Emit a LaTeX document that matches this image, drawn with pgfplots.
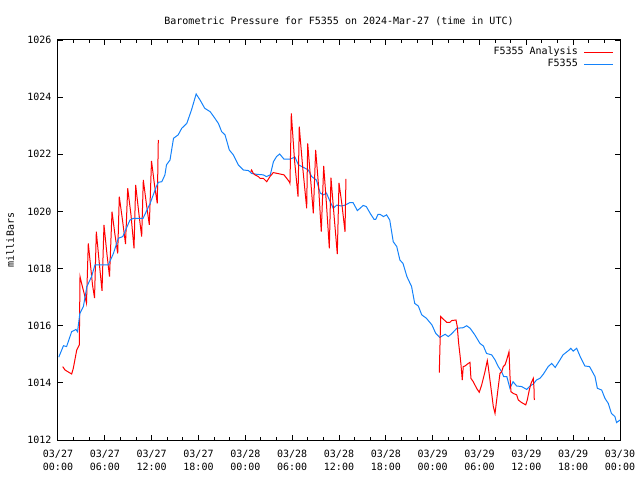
\documentclass[border=0pt]{standalone}
\usepackage{fontspec}
\setmainfont{DejaVu Sans Mono}
\usepackage{pgfplots}
\pgfplotsset{compat=1.18}
\definecolor{gred}{RGB}{255,0,0}
\definecolor{gblue}{RGB}{20,130,250}
\begin{document}
\begin{tikzpicture}
\useasboundingbox (0,0) rectangle (640pt,480pt);
\begin{axis}[
  at={(58pt,40pt)}, anchor=south west,
  scale only axis, width=562pt, height=400pt,
  xmin=0, xmax=72, ymin=1012, ymax=1026,
  xtick={0,6,...,72},
  xticklabels={{03/27\\00:00},{03/27\\06:00},{03/27\\12:00},{03/27\\18:00},{03/28\\00:00},{03/28\\06:00},{03/28\\12:00},{03/28\\18:00},{03/29\\00:00},{03/29\\06:00},{03/29\\12:00},{03/29\\18:00},{03/30\\00:00}},
  minor x tick num=2,
  ytick={1012,1014,...,1026},
  /pgf/number format/assume math mode=true,
  /pgf/number format/1000 sep={},
  yticklabel style={xshift=-3pt},
  xticklabel style={align=center, yshift=-6.5pt, font=\fontsize{10}{13}\selectfont},
  major tick length=5pt, minor tick length=3pt,
  axis line style={line width=1pt},
  every tick/.style={black, line width=1pt},
  title={Barometric Pressure for F5355 on 2024-Mar-27 (time in UTC)},
  title style={at={(0.5,1)}, anchor=base, yshift=9pt, inner sep=0pt},
  ylabel={milliBars},
  ylabel style={at={(axis description cs:0,0.5)}, anchor=center, yshift=48pt},
  legend plot pos=right,
  legend cell align=right,
  legend image code/.code={\draw[#1] (0pt,0pt) -- (29pt,0pt);},
  legend style={draw=none, fill=none, at={(1,1)}, anchor=north east, xshift=-6pt, yshift=-6pt, inner sep=0pt, row sep=0pt, column sep=5pt, nodes={inner sep=1pt, text height=7.5pt, text depth=2.5pt}},
]
\addplot[gred, line width=1pt] coordinates {
(0.6,1014.57) (0.9,1014.45) (1.75,1014.31) (1.96,1014.51) (2.4,1015.15) (2.73,1015.33)
(2.82,1017.72) (3.07,1017.43) (3.33,1017.15) (3.65,1016.79) (3.88,1018.88) (4.16,1018.13)
(4.42,1017.43) (4.68,1016.97) (4.91,1019.29) (5.25,1018.30) (5.64,1017.22) (5.89,1019.53)
(6.28,1018.48) (6.6,1017.72) (6.92,1019.99) (7.3,1019.18) (7.65,1018.53) (7.85,1020.52)
(8.26,1019.70) (8.65,1018.86) (8.93,1020.81) (9.35,1019.88) (9.74,1018.71) (9.95,1020.93)
(10.38,1019.88) (10.72,1019.12) (10.93,1021.10) (11.34,1020.23) (11.7,1019.53) (11.98,1021.77)
(12.36,1020.93) (12.72,1020.28) (12.85,1022.50)
};
\addlegendentry{F5355 Analysis}
\addplot[gblue, line width=1pt] coordinates {
(0.1,1014.9) (0.7,1015.3) (1.1,1015.27) (1.75,1015.79) (2.3,1015.87) (2.5,1015.79)
(2.8,1016.43) (3.25,1016.67) (3.7,1017.37) (4.3,1017.72) (4.74,1018.13) (6.45,1018.13)
(7.1,1018.53) (7.73,1019.06) (8.3,1019.12) (9.22,1019.70) (9.65,1019.76) (10.9,1019.76)
(11.8,1020.28) (12.6,1020.87) (12.85,1021.02) (13.3,1021.04) (13.7,1021.28) (13.9,1021.63)
(14.35,1021.80) (14.8,1022.56) (15.4,1022.68) (15.85,1022.91) (16.5,1023.08) (17.1,1023.55)
(17.7,1024.11) (18.2,1023.90) (18.8,1023.61) (19.5,1023.49) (20.1,1023.26) (20.55,1023.08)
(20.97,1022.79) (21.4,1022.68) (21.95,1022.15) (22.46,1021.98) (23.1,1021.63) (23.74,1021.45)
(24.4,1021.43) (24.8,1021.33) (25.45,1021.30) (26.3,1021.28) (26.7,1021.22) (27.2,1021.28)
(27.6,1021.74) (28.0,1021.92) (28.4,1022.01) (28.95,1021.83) (29.7,1021.83) (30.36,1021.90)
(30.8,1021.63) (31.4,1021.55) (32.07,1021.45) (32.5,1021.22) (33.1,1021.10) (33.6,1020.64)
(34.0,1020.58) (34.4,1020.64) (34.85,1020.35) (35.27,1020.11) (35.7,1020.22) (36.34,1020.19)
(36.77,1020.22) (37.4,1020.31) (37.8,1020.31) (38.35,1020.03) (38.7,1020.11) (39.1,1020.21)
(39.5,1020.17) (40.0,1019.93) (40.5,1019.72) (40.7,1019.72) (41.0,1019.90) (41.25,1019.90)
(41.7,1019.82) (42.1,1019.88) (42.5,1019.70) (42.95,1018.94) (43.4,1018.77) (43.8,1018.30)
(44.2,1018.18) (44.7,1017.72) (45.3,1017.37) (45.7,1016.78) (46.16,1016.69) (46.6,1016.38)
(47.2,1016.26) (47.9,1016.03) (48.4,1015.73) (48.9,1015.59) (49.6,1015.70) (50.0,1015.62)
(50.4,1015.71) (51.1,1015.91) (51.9,1015.93) (52.36,1016.00) (52.8,1015.91) (53.4,1015.68)
(54.06,1015.38) (54.5,1015.29) (54.9,1015.03) (55.56,1014.98) (56.0,1014.80) (56.4,1014.57)
(56.84,1014.39) (57.1,1014.22) (57.5,1014.22) (57.9,1013.81) (58.3,1014.04) (58.76,1013.89)
(59.4,1013.87) (60.04,1013.77) (60.47,1013.89) (60.9,1013.96) (61.3,1014.10) (61.75,1014.16)
(62.17,1014.30) (62.8,1014.57) (63.25,1014.68) (63.7,1014.54) (64.3,1014.80) (64.7,1014.98)
(65.4,1015.13) (65.7,1015.21) (66.0,1015.11) (66.45,1015.21) (66.9,1014.92) (67.5,1014.59)
(68.1,1014.57) (68.8,1014.22) (69.1,1013.81) (69.65,1013.75) (70.07,1013.46) (70.5,1013.28)
(70.9,1012.93) (71.35,1012.82) (71.56,1012.61) (72.0,1012.70)
};
\addlegendentry{F5355}
\addplot[gred, line width=1pt, forget plot] coordinates {
(24.69,1021.39) (24.81,1021.45) (25.02,1021.33) (25.24,1021.28) (25.66,1021.22) (25.88,1021.16)
(26.3,1021.16) (26.74,1021.04) (27.16,1021.22) (27.58,1021.36) (28.44,1021.31) (28.95,1021.28)
(29.3,1021.16) (29.63,1021.04) (29.72,1020.98) (29.89,1023.43) (30.3,1021.80) (30.75,1020.52)
(30.91,1022.97) (31.32,1021.63) (31.86,1020.11) (31.99,1022.38) (32.35,1021.17) (32.71,1019.93)
(33.01,1022.15) (33.37,1020.93) (33.73,1019.29) (34.04,1021.59) (34.40,1020.23) (34.76,1018.71)
(34.97,1021.18) (35.36,1019.88) (35.78,1018.51) (36.0,1021.0) (36.38,1020.23) (36.77,1019.29)
(36.89,1021.14)
};
\addplot[gred, line width=1pt, forget plot] coordinates {
(48.85,1014.36) (48.94,1015.33) (49.03,1016.32) (49.36,1016.23) (49.8,1016.12) (50.22,1016.12)
(50.44,1016.18) (50.99,1016.20) (51.15,1015.97) (51.33,1015.38) (51.5,1014.98) (51.63,1014.63)
(51.79,1014.10) (51.92,1014.57) (52.14,1014.59) (52.56,1014.68) (52.78,1014.72) (52.9,1014.16)
(53.2,1014.04) (53.63,1013.81) (53.97,1013.67) (54.28,1013.93) (54.7,1014.39) (55.0,1014.78)
(55.12,1014.57) (55.34,1014.10) (55.56,1013.63) (55.77,1013.17) (55.99,1012.93) (56.2,1013.40)
(56.41,1013.87) (56.62,1014.33) (56.84,1014.39) (57.05,1014.57) (57.27,1014.63) (57.48,1014.80)
(57.78,1015.09) (57.91,1014.22) (58.03,1013.69) (58.33,1013.63) (58.76,1013.58) (58.97,1013.40)
(59.4,1013.31) (59.92,1013.23) (60.12,1013.40) (60.38,1013.75) (60.6,1013.98) (60.89,1014.16)
(60.98,1013.82) (61.02,1013.40)
};
\end{axis}
\end{tikzpicture}
\end{document}
